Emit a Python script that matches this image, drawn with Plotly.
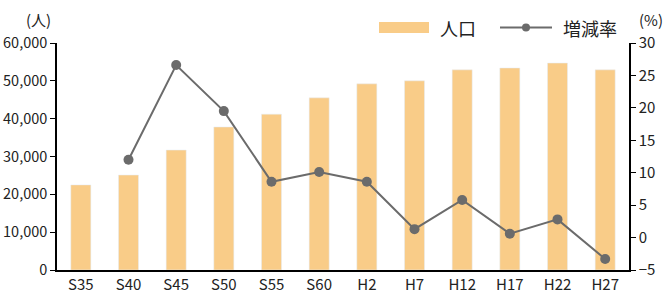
import plotly.graph_objects as go

categories = ["S35", "S40", "S45", "S50", "S55", "S60", "H2", "H7", "H12", "H17", "H22", "H27"]
population = [22500, 25100, 31700, 37800, 41200, 45500, 49200, 50000, 52900, 53400, 54700, 52900]
growth_rate = [None, 12.0, 26.6, 19.5, 8.6, 10.1, 8.6, 1.3, 5.8, 0.6, 2.8, -3.3]

BAR = "#F9CC88"
LINE = "#6b6b6b"
FONT = "Noto Sans CJK JP"
TXT = "#222222"

fig = go.Figure()
fig.add_trace(go.Bar(x=categories, y=population, marker_color=BAR, width=0.42,
                     name="人口", showlegend=False))
fig.add_trace(go.Scatter(x=categories, y=growth_rate, yaxis="y2", mode="lines+markers",
                         line=dict(color=LINE, width=2), marker=dict(color=LINE, size=10),
                         name="増減率", showlegend=False))

fig.update_layout(
    width=665, height=293,
    margin=dict(l=57, r=36, t=43, b=23, autoexpand=False),
    plot_bgcolor="white", paper_bgcolor="white",
    font=dict(family=FONT, size=15, color=TXT),
    xaxis=dict(showline=True, linecolor="black", linewidth=1.5, ticks="", showgrid=False,
               tickfont=dict(size=15), range=[-0.5, 11.5], automargin=False, ticklabelstandoff=0),
    yaxis=dict(range=[0, 60000], dtick=10000, tickformat=",", showline=True, linecolor="black",
               linewidth=1.5, ticks="outside", ticklen=5, tickcolor="black", showgrid=False,
               zeroline=False, tickfont=dict(size=14.5), automargin=False, ticklabelstandoff=0),
    yaxis2=dict(range=[-5, 30], dtick=5, overlaying="y", side="right", showline=True,
                linecolor="black", linewidth=1.5, ticks="outside", ticklen=5, tickcolor="black",
                showgrid=False, zeroline=False, tickfont=dict(size=15), automargin=False,
                ticklabelstandoff=0),
    bargap=0.5,
)

# custom legend
fig.add_shape(type="rect", xref="paper", yref="paper", x0=(379-57)/572, x1=(429-57)/572,
              y0=(270-33)/227, y1=(270-22)/227, fillcolor=BAR, line_width=0)
fig.add_annotation(xref="paper", yref="paper", x=(438-57)/572, y=(270-27.5)/227, text="人口",
                   showarrow=False, xanchor="left", yanchor="middle", font=dict(size=18, color=TXT))
fig.add_shape(type="line", xref="paper", yref="paper", x0=(500-57)/572, x1=(552-57)/572,
              y0=(270-27.5)/227, y1=(270-27.5)/227, line=dict(color=LINE, width=2))
fig.add_shape(type="circle", xref="paper", yref="paper", x0=(522-57)/572, x1=(530-57)/572,
              y0=(270-31.5)/227, y1=(270-23.5)/227, fillcolor=LINE, line_width=0)
fig.add_annotation(xref="paper", yref="paper", x=(561-57)/572, y=(270-27.5)/227, text="増減率",
                   showarrow=False, xanchor="left", yanchor="middle", font=dict(size=18, color=TXT))
# units
fig.add_annotation(xref="paper", yref="paper", x=(53-57)/572, y=(270-19)/227, text="(人)",
                   showarrow=False, xanchor="right", yanchor="middle", font=dict(size=15, color=TXT))
fig.add_annotation(xref="paper", yref="paper", x=(637-57)/572, y=(270-19)/227, text="(%)",
                   showarrow=False, xanchor="left", yanchor="middle", font=dict(size=15, color=TXT))

fig.write_html("out.html", config={"displayModeBar": False},
               post_script="document.body.style.margin='0';document.body.style.overflow='hidden';")
